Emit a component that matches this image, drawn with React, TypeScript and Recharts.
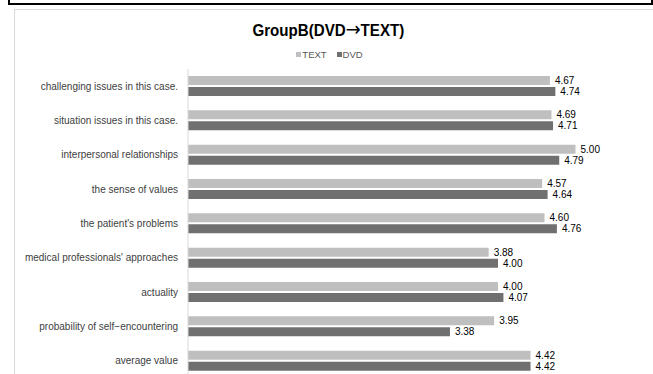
import { BarChart, Bar, XAxis, YAxis, LabelList } from "recharts";

const categories = [
  "challenging issues in this case.",
  "situation issues in this case.",
  "interpersonal relationships",
  "the sense of values",
  "the patient's problems",
  "medical professionals' approaches",
  "actuality",
  "probability of self\u2212encountering",
  "average value",
];
const textValues = [4.67, 4.69, 5.0, 4.57, 4.6, 3.88, 4.0, 3.95, 4.42];
const dvdValues = [4.74, 4.71, 4.79, 4.64, 4.76, 4.0, 4.07, 3.38, 4.42];

const seriesNames = ["TEXT", "DVD"];
const seriesColors = ["#bfbfbf", "#707070"];

const data = categories.map((c, i) => ({
  name: c,
  TEXT: textValues[i],
  DVD: dvdValues[i],
}));

const FONT = "'Liberation Sans', Arial, sans-serif";

// single-line category label (default tick wraps long text)
const CategoryTick = (props: any) => {
  const { x, y, payload } = props;
  return (
    <text
      x={x}
      y={y}
      dy={3.5}
      textAnchor="end"
      fontSize={10}
      fill="#404040"
      fontFamily={FONT}
    >
      {payload.value}
    </text>
  );
};

export default function App() {
  return (
    <div
      style={{
        position: "fixed",
        left: 0,
        top: 0,
        width: 653,
        height: 374,
        overflow: "hidden",
        background: "#fff",
        fontFamily: FONT,
      }}
    >
      {/* bottom edge of the box above */}
      <div
        style={{
          position: "absolute",
          left: 8,
          top: -20,
          width: 641,
          height: 21,
          border: "2px solid #000",
        }}
      />
      {/* chart frame */}
      <div
        style={{
          position: "absolute",
          left: 14,
          top: 9,
          width: 700,
          height: 400,
          border: "1px solid #d9d9d9",
        }}
      />
      <div
        style={{
          position: "absolute",
          left: 2,
          top: 17,
          width: 653,
          textAlign: "center",
          fontSize: 17,
          fontWeight: "bold",
          color: "#000",
        }}
      >
        <span style={{ display: "inline-block", transform: "scaleX(0.89)" }}>
          GroupB(DVD
          <span style={{ fontFamily: "'DejaVu Sans'", fontWeight: "normal", fontSize: 20 }}>→</span>
          TEXT)
        </span>
      </div>
      <div
        style={{
          position: "absolute",
          left: 3,
          top: 49,
          width: 653,
          display: "flex",
          justifyContent: "center",
          gap: 10,
          fontSize: 9.5,
          color: "#595959",
        }}
      >
        {seriesNames.map((n, i) => (
          <span key={n} style={{ display: "flex", alignItems: "center" }}>
            <span
              style={{
                width: 5,
                height: 5,
                background: seriesColors[i],
                marginRight: 1,
                display: "inline-block",
              }}
            />
            {n}
          </span>
        ))}
      </div>
      <div style={{ position: "absolute", left: 0, top: 0 }}>
        <BarChart
          width={653}
          height={380}
          data={data}
          layout="vertical"
          margin={{ top: 69, right: 0, bottom: 2, left: 0 }}
          barSize={9}
          barGap={2}
        >
          <XAxis type="number" domain={[0, 6]} hide />
          <YAxis
            type="category"
            dataKey="name"
            width={188}
            tickLine={false}
            tickSize={0}
            tickMargin={10}
            axisLine={{ stroke: "#d9d9d9" }}
            interval={0}
            tick={<CategoryTick />}
          />
          {seriesNames.map((n, i) => (
            <Bar
              key={n}
              dataKey={n}
              fill={seriesColors[i]}
              isAnimationActive={false}
            >
              <LabelList
                dataKey={n}
                position="right"
                offset={5}
                formatter={(v: number) => v.toFixed(2)}
                style={{ fontSize: 10, fill: "#000", fontFamily: FONT }}
              />
            </Bar>
          ))}
        </BarChart>
      </div>
    </div>
  );
}
